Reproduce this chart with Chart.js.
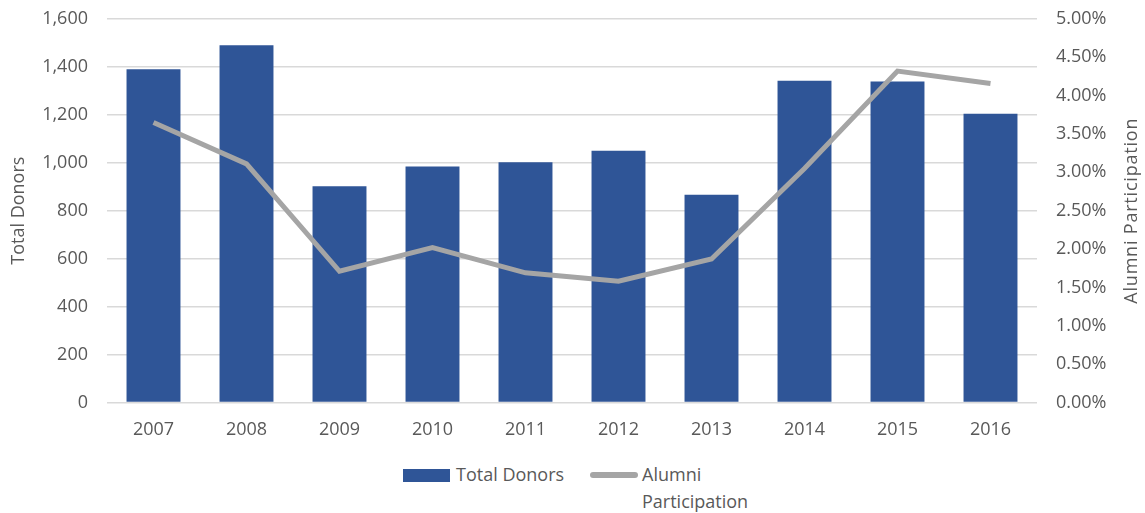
<!DOCTYPE html>
<html>
<head>
<meta charset="utf-8">
<script src="https://cdn.jsdelivr.net/npm/chart.js@4"></script>
<style>
  body { margin: 0; background: #fff; }
  #wrap { position: relative; width: 1145px; height: 513px; }
  #legend { font-family: "Open Sans", sans-serif; font-size: 18px; color: #595959; line-height: 27px; }
  .swatch, .label { position: absolute; }
</style>
</head>
<body>
<div id="wrap">
  <canvas id="chart" width="1145" height="450"></canvas>
  <div id="legend"></div>
</div>
<script>
// values
const years = ["2007", "2008", "2009", "2010", "2011", "2012", "2013", "2014", "2015", "2016"];
const totalDonors = [1390, 1490, 902, 984, 1002, 1050, 867, 1342, 1339, 1205];
const alumniParticipation = [0.0365, 0.0311, 0.0171, 0.0202, 0.0169, 0.0158, 0.0187, 0.0305, 0.0432, 0.0416];

const barColor = "#2F5597";
const lineColor = "#A5A5A5";
const textColor = "#595959";
const gridColor = "#D9D9D9";
const fontFamily = "'Open Sans', sans-serif";

Chart.defaults.font.family = fontFamily;
Chart.defaults.color = textColor;

// right axis title reads bottom-to-top, so draw it ourselves
const rightTitle = {
  id: "rightTitle",
  afterDraw(chart) {
    const { ctx, chartArea } = chart;
    ctx.save();
    ctx.translate(1132, (chartArea.top + chartArea.bottom) / 2);
    ctx.rotate(-Math.PI / 2);
    ctx.font = "18px " + fontFamily;
    ctx.letterSpacing = "0.8px";
    ctx.fillStyle = textColor;
    ctx.textAlign = "center";
    ctx.textBaseline = "middle";
    ctx.fillText("Alumni Participation", 0, 0);
    ctx.restore();
  },
};

const ctx = document.getElementById("chart").getContext("2d");
const chart = new Chart(ctx, {
  type: "bar",
  data: {
    labels: years,
    datasets: [
      {
        type: "line",
        label: "Alumni Participation",
        data: alumniParticipation,
        borderColor: lineColor,
        backgroundColor: lineColor,
        borderWidth: 5,
        pointRadius: 0,
        pointHoverRadius: 0,
        tension: 0,
        yAxisID: "y2",
        order: 0,
      },
      {
        label: "Total Donors",
        data: totalDonors,
        backgroundColor: barColor,
        barPercentage: 0.58,
        categoryPercentage: 1,
        yAxisID: "y",
        order: 1,
      },
    ],
  },
  options: {
    responsive: false,
    animation: false,
    layout: { padding: 0 },
    plugins: {
      legend: { display: false },
      tooltip: { enabled: false },
    },
    scales: {
      x: {
        grid: { display: false },
        border: { display: false },
        ticks: { font: { size: 18 }, padding: 9 },
      },
      y: {
        position: "left",
        min: 0,
        max: 1600,
        ticks: {
          stepSize: 200,
          font: { size: 18 },
          padding: 19,
          callback: (v) => v.toLocaleString("en-US"),
        },
        grid: { color: gridColor, lineWidth: 1.5, drawTicks: false },
        border: { display: false },
        title: { display: true, text: "Total Donors", font: { size: 18 }, padding: { top: 8, bottom: 0 } },
        afterFit: (s) => { s.width = 107; s.paddingTop = 19; },
      },
      y2: {
        position: "right",
        min: 0,
        max: 0.05,
        ticks: {
          stepSize: 0.005,
          font: { size: 18 },
          padding: 19,
          callback: (v) => (v * 100).toFixed(2) + "%",
        },
        grid: { display: false, drawTicks: false },
        border: { display: false },
        afterFit: (s) => { s.width = 108; s.paddingTop = 19; },
      },
    },
  },
  plugins: [rightTitle],
});

// legend below the chart, with the wrapped second label like the original
const legend = document.getElementById("legend");
const items = [
  { text: ["Total Donors"], color: barColor, x: 403, w: 47, h: 13, r: 0, tx: 456 },
  { text: ["Alumni", "Participation"], color: lineColor, x: 590, w: 48, h: 6, r: 3, tx: 642 },
];
items.forEach((it) => {
  const sw = document.createElement("div");
  sw.className = "swatch";
  sw.style.cssText = `left:${it.x}px;top:${475 - it.h / 2}px;width:${it.w}px;height:${it.h}px;background:${it.color};border-radius:${it.r}px`;
  const lb = document.createElement("div");
  lb.className = "label";
  lb.style.cssText = `left:${it.tx}px;top:461px`;
  lb.innerHTML = it.text.join("<br>");
  legend.appendChild(sw);
  legend.appendChild(lb);
});
</script>
</body>
</html>
